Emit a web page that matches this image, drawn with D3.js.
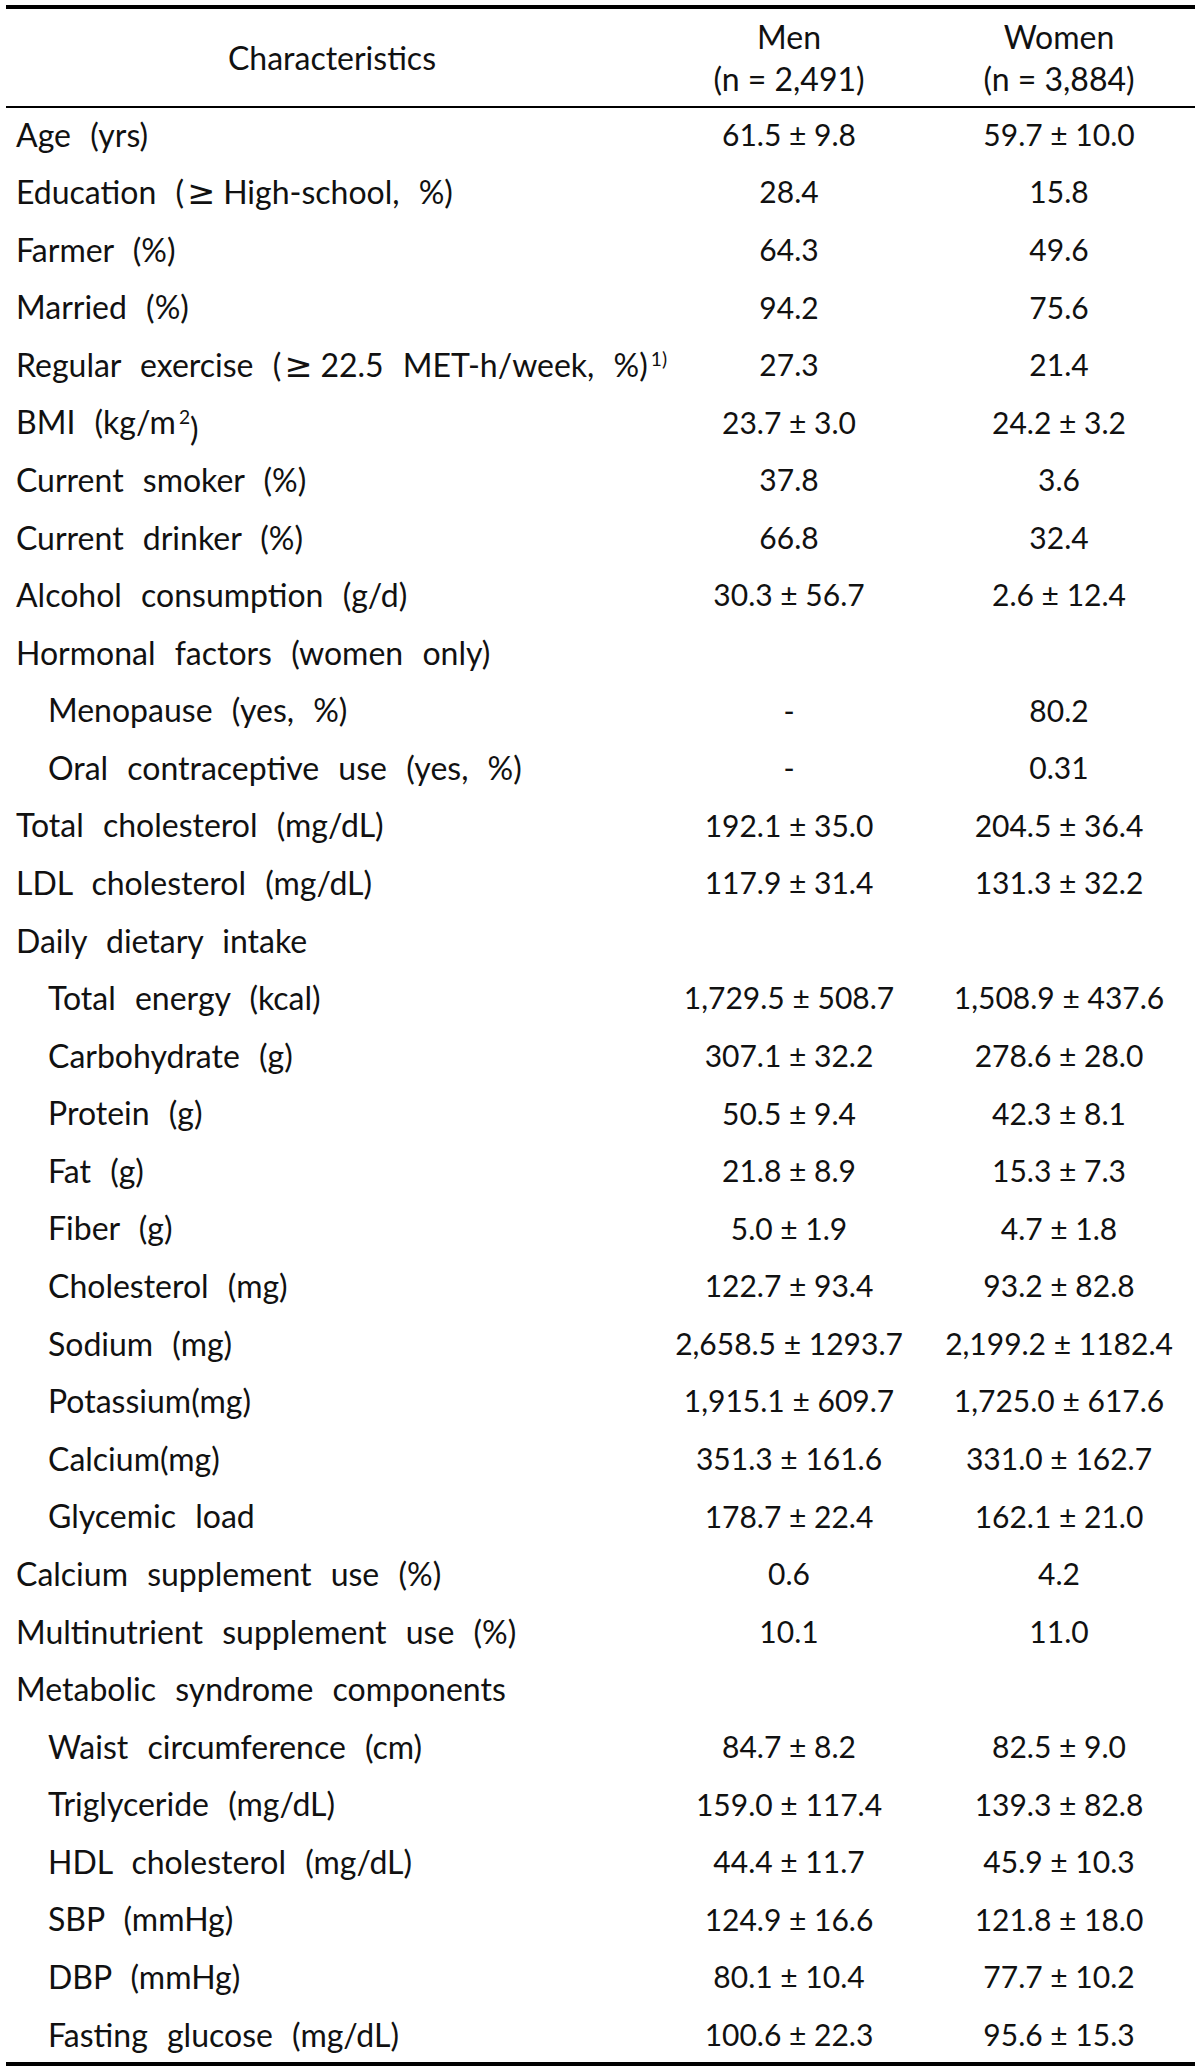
<!DOCTYPE html>
<html>
<head>
<meta charset="utf-8">
<script src="https://cdn.jsdelivr.net/npm/d3@7"></script>
<style>
	body { margin: 0; background: #fff; }
	text { font-family: Lato, 'Noto Sans', sans-serif; fill: #111; }
</style>
</head>
<body>
<div id="table"></div>
<script>
let W = 1200
let H = 2072

// row labels (indent 1 = sub item), values as printed
let labels = [
	'Age (yrs)', 'Education (≥ High-school, %)', 'Farmer (%)', 'Married (%)',
	'Regular exercise (≥ 22.5 MET-h/week, %)', 'BMI (kg/m', 'Current smoker (%)',
	'Current drinker (%)', 'Alcohol consumption (g/d)', 'Hormonal factors (women only)',
	'Menopause (yes, %)', 'Oral contraceptive use (yes, %)', 'Total cholesterol (mg/dL)',
	'LDL cholesterol (mg/dL)', 'Daily dietary intake', 'Total energy (kcal)',
	'Carbohydrate (g)', 'Protein (g)', 'Fat (g)', 'Fiber (g)', 'Cholesterol (mg)',
	'Sodium (mg)', 'Potassium(mg)', 'Calcium(mg)', 'Glycemic load',
	'Calcium supplement use (%)', 'Multinutrient supplement use (%)',
	'Metabolic syndrome components', 'Waist circumference (cm)', 'Triglyceride (mg/dL)',
	'HDL cholesterol (mg/dL)', 'SBP (mmHg)', 'DBP (mmHg)', 'Fasting glucose (mg/dL)'
]
let indent = [0,0,0,0,0,0,0,0,0,0,1,1,0,0,0,1,1,1,1,1,1,1,1,1,1,0,0,0,1,1,1,1,1,1]
// superscript bits appended to some labels
let supers = { 4: '1)', 5: '2' }
let afterSuper = { 5: ')' }

let men = [
	'61.5 ± 9.8', '28.4', '64.3', '94.2', '27.3', '23.7 ± 3.0', '37.8', '66.8', '30.3 ± 56.7', '',
	'-', '-', '192.1 ± 35.0', '117.9 ± 31.4', '', '1,729.5 ± 508.7', '307.1 ± 32.2', '50.5 ± 9.4',
	'21.8 ± 8.9', '5.0 ± 1.9', '122.7 ± 93.4', '2,658.5 ± 1293.7', '1,915.1 ± 609.7',
	'351.3 ± 161.6', '178.7 ± 22.4', '0.6', '10.1', '', '84.7 ± 8.2', '159.0 ± 117.4',
	'44.4 ± 11.7', '124.9 ± 16.6', '80.1 ± 10.4', '100.6 ± 22.3'
]
let women = [
	'59.7 ± 10.0', '15.8', '49.6', '75.6', '21.4', '24.2 ± 3.2', '3.6', '32.4', '2.6 ± 12.4', '',
	'80.2', '0.31', '204.5 ± 36.4', '131.3 ± 32.2', '', '1,508.9 ± 437.6', '278.6 ± 28.0', '42.3 ± 8.1',
	'15.3 ± 7.3', '4.7 ± 1.8', '93.2 ± 82.8', '2,199.2 ± 1182.4', '1,725.0 ± 617.6',
	'331.0 ± 162.7', '162.1 ± 21.0', '4.2', '11.0', '', '82.5 ± 9.0', '139.3 ± 82.8',
	'45.9 ± 10.3', '121.8 ± 18.0', '77.7 ± 10.2', '95.6 ± 15.3'
]
let headers = [['Characteristics'], ['Men', '(n = 2,491)'], ['Women', '(n = 3,884)']]

let labelSize = 32
let valueSize = 30
let headSize = 32

let svg = d3.select('#table')
	.append('svg:svg')
	.attr('width', W)
	.attr('height', H)

svg.append('rect').attr('width', W).attr('height', H).attr('fill', '#fff')

let colX = d3.scaleOrdinal().domain([0, 1, 2]).range([332, 789, 1059])
let y = d3.scalePoint().domain(d3.range(labels.length)).range([135, 2035])

// rules
let rules = [{ y: 7, w: 4 }, { y: 107, w: 2 }, { y: 2064, w: 4 }]
svg.selectAll('line.rule')
	.data(rules)
	.join('line')
	.attr('class', 'rule')
	.attr('x1', 6)
	.attr('x2', 1195)
	.attr('y1', d => d.y)
	.attr('y2', d => d.y)
	.attr('stroke', '#000')
	.attr('stroke-width', d => d.w)

// header
headers.forEach((lines, c) => {
	let cy = lines.length === 1 ? [58] : [37, 79]
	lines.forEach((t, i) => {
		svg.append('text')
			.attr('x', colX(c))
			.attr('y', cy[i])
			.attr('dy', '0.36em')
			.attr('text-anchor', 'middle')
			.attr('font-size', headSize)
			.text(t)
	})
})

// label column
let rows = svg.selectAll('g.row')
	.data(labels.map((l, i) => i))
	.join('g')
	.attr('class', 'row')
	.attr('transform', i => `translate(0,${y(i)})`)

rows.each(function (i) {
	let g = d3.select(this)
	let t = g.append('text')
		.attr('x', indent[i] ? 48 : 16)
		.attr('dy', '0.36em')
		.attr('font-size', labelSize)
		.attr('word-spacing', 11)
	// the ≥ sign is drawn in a math-looking face, as in the print
	let parts = labels[i].split('≥ ')
	parts.forEach((p, k) => {
		if (k > 0) {
			t.append('tspan')
				.style('font-family', "'DejaVu Sans', sans-serif")
				.attr('font-size', labelSize * 1.05)
				.attr('dx', 3)
				.text('≥')
			t.append('tspan').attr('dx', 8).text(p)
		} else {
			t.append('tspan').text(p)
		}
	})
	if (supers[i]) {
		t.append('tspan')
			.attr('dy', '-0.55em')
			.attr('dx', 3)
			.attr('font-size', labelSize * 0.6)
			.text(supers[i])
		if (afterSuper[i]) {
			t.append('tspan')
				.attr('dy', '0.55em')
				.text(afterSuper[i])
		}
	}
	g.append('text')
		.attr('x', colX(1))
		.attr('dy', '0.36em')
		.attr('text-anchor', 'middle')
		.attr('font-size', valueSize)
		.text(men[i])
	g.append('text')
		.attr('x', colX(2))
		.attr('dy', '0.36em')
		.attr('text-anchor', 'middle')
		.attr('font-size', valueSize)
		.text(women[i])
})
</script>
</body>
</html>
